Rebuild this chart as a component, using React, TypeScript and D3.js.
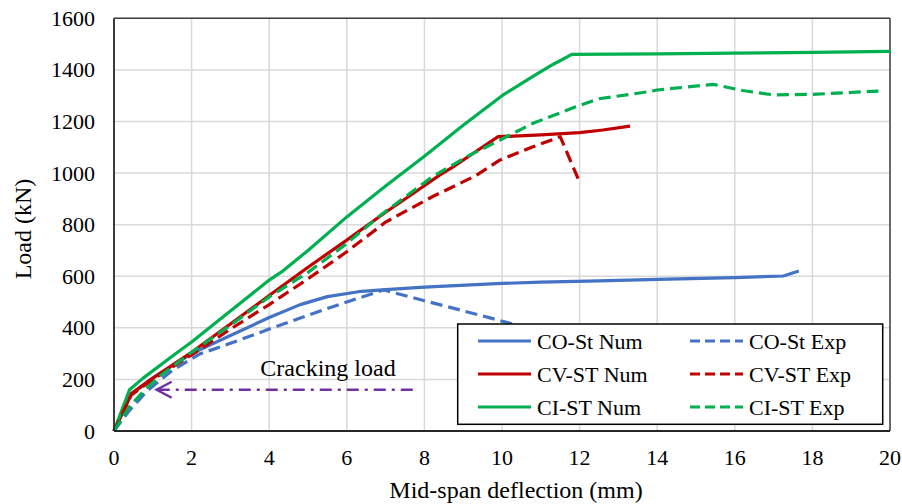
import React from "react";
import * as d3 from "d3";

const xTicks = [0, 2, 4, 6, 8, 10, 12, 14, 16, 18, 20];
const yTicks = [0, 200, 400, 600, 800, 1000, 1200, 1400, 1600];

const coStNum: [number, number][] = [[0,0],[0.45,145],[1,205],[2,300],[3,370],[4,440],[4.8,490],[5.5,521],[6.3,540],[7,548],[8,558],[10,572],[11,577],[12.5,582],[14,588],[16,595],[17.25,601],[17.65,620]];
const coStExp: [number, number][] = [[0,0],[0.4,80],[0.85,155],[1.5,235],[2.2,298],[3,340],[4,395],[4.8,438],[5.5,475],[6.3,515],[6.95,547],[8,505],[9,466],[10.2,418],[11,386]];
const cvStNum: [number, number][] = [[0,0],[0.45,145],[1,205],[2,305],[3,415],[4,525],[5,635],[6,740],[7,848],[7.7,920],[8.4,993],[8.75,1025],[9.26,1077],[9.9,1141],[11,1148],[12,1157],[12.6,1167],[13.3,1182]];
const cvStExp: [number, number][] = [[0,0],[0.45,140],[1,200],[2,295],[3,395],[4,490],[5,590],[6,695],[7,810],[8.2,908],[9.3,988],[9.95,1051],[10.8,1102],[11.5,1141],[12,965]];
const ciStNum: [number, number][] = [[0,0],[0.4,160],[0.75,205],[1.5,290],[2,345],[3,465],[4,585],[4.35,620],[5,700],[6,830],[7,950],[8,1065],[9,1185],[10,1300],[10.85,1380],[11.3,1420],[11.8,1460],[14,1462],[16,1465],[18,1468],[20,1472]];
const ciStExp: [number, number][] = [[0,0],[0.4,95],[0.8,160],[1.2,215],[2,305],[3,410],[4,520],[5,615],[5.9,715],[6.9,840],[8.2,985],[9.1,1064],[9.95,1128],[10.8,1193],[11.9,1257],[12.5,1288],[13.8,1316],[14,1322],[15.45,1344],[16.2,1320],[17,1303],[18,1305],[19.7,1318]];

const crackingArrow: [number, number][] = [[7.7, 160], [1.1, 160]];
const crackingLabel = "Cracking load";

const seriesNames = ["CO-St Num", "CV-ST Num", "CI-ST Num", "CO-St Exp", "CV-ST Exp", "CI-ST Exp"];

const BLUE = "#4472C4";
const RED = "#C00000";
const GREEN = "#00B050";
const PURPLE = "#7030A0";
const FONT = "'Liberation Serif', 'Times New Roman', serif";

export default function App() {
  const x = d3.scaleLinear().domain([0, 20]).range([114, 890]);
  const y = d3.scaleLinear().domain([0, 1600]).range([431, 18.3]);
  const line = d3.line<[number, number]>().x(d => x(d[0])).y(d => y(d[1]));

  const series = [
    { data: coStNum, color: BLUE, dashed: false },
    { data: cvStNum, color: RED, dashed: false },
    { data: ciStNum, color: GREEN, dashed: false },
    { data: coStExp, color: BLUE, dashed: true },
    { data: cvStExp, color: RED, dashed: true },
    { data: ciStExp, color: GREEN, dashed: true },
  ];

  const dash = "12 6";
  const legendRows = [341, 374, 407];

  const ax0 = x(crackingArrow[0][0]);
  const ax1 = x(crackingArrow[1][0]);
  const ay = y(crackingArrow[0][1]);

  return (
    <svg width={902} height={504} style={{ position: "absolute", left: 0, top: 0, background: "#fff" }} fontFamily={FONT}>
      {xTicks.slice(1).map(t => (
        <line key={"gx" + t} x1={x(t)} x2={x(t)} y1={y(0)} y2={y(1600)} stroke="#d9d9d9" strokeWidth={1.5} />
      ))}
      {yTicks.slice(1).map(t => (
        <line key={"gy" + t} x1={x(0)} x2={x(20)} y1={y(t)} y2={y(t)} stroke="#d9d9d9" strokeWidth={1.5} />
      ))}
      <line x1={x(0)} x2={x(20)} y1={y(1600)} y2={y(1600)} stroke="#404040" strokeWidth={1.5} />
      <line x1={x(20)} x2={x(20)} y1={y(0)} y2={y(1600)} stroke="#404040" strokeWidth={1.5} />
      {series.map((s, i) => (
        <path key={i} d={line(s.data) || ""} fill="none" stroke={s.color} strokeWidth={3.2}
          strokeDasharray={s.dashed ? dash : undefined} strokeLinejoin="round" />
      ))}
      <line x1={x(0)} x2={x(0)} y1={y(0)} y2={y(1600)} stroke="#262626" strokeWidth={1.8} />
      <line x1={x(0)} x2={x(20)} y1={y(0)} y2={y(0)} stroke="#262626" strokeWidth={1.8} />
      {xTicks.map(t => (
        <text key={"tx" + t} x={x(t)} y={465} textAnchor="middle" fontSize={22} fill="#000">{t}</text>
      ))}
      {yTicks.map(t => (
        <text key={"ty" + t} x={95} y={y(t) + 7.5} textAnchor="end" fontSize={22} fill="#000">{t}</text>
      ))}
      <text x={516} y={498} textAnchor="middle" fontSize={24} fill="#000">Mid-span deflection (mm)</text>
      <text transform="translate(31,229) rotate(-90)" textAnchor="middle" fontSize={24} fill="#000">Load (kN)</text>
      <line x1={ax0} x2={ax1 + 1} y1={ay} y2={ay} stroke={PURPLE} strokeWidth={2.5} strokeDasharray="12 6 3 6" />
      <path d={`M${ax1 + 15},${ay - 8} L${ax1},${ay} L${ax1 + 15},${ay + 8}`} fill="none" stroke={PURPLE} strokeWidth={2.5} />
      <text x={328} y={376} textAnchor="middle" fontSize={24} fill="#000">{crackingLabel}</text>
      <rect x={457.7} y={324} width={425} height={100.3} fill="#fff" stroke="#000" strokeWidth={1.5} />
      {seriesNames.map((name, i) => {
        const col = Math.floor(i / 3);
        const row = i % 3;
        const s = series[i];
        const lx = col === 0 ? 478 : 690;
        const ly = legendRows[row];
        return (
          <g key={name}>
            <line x1={lx} x2={lx + 53} y1={ly} y2={ly} stroke={s.color} strokeWidth={3.2}
              strokeDasharray={s.dashed ? "10 5" : undefined} />
            <text x={lx + 59} y={ly + 7.5} fontSize={22} fill="#000">{name}</text>
          </g>
        );
      })}
    </svg>
  );
}
